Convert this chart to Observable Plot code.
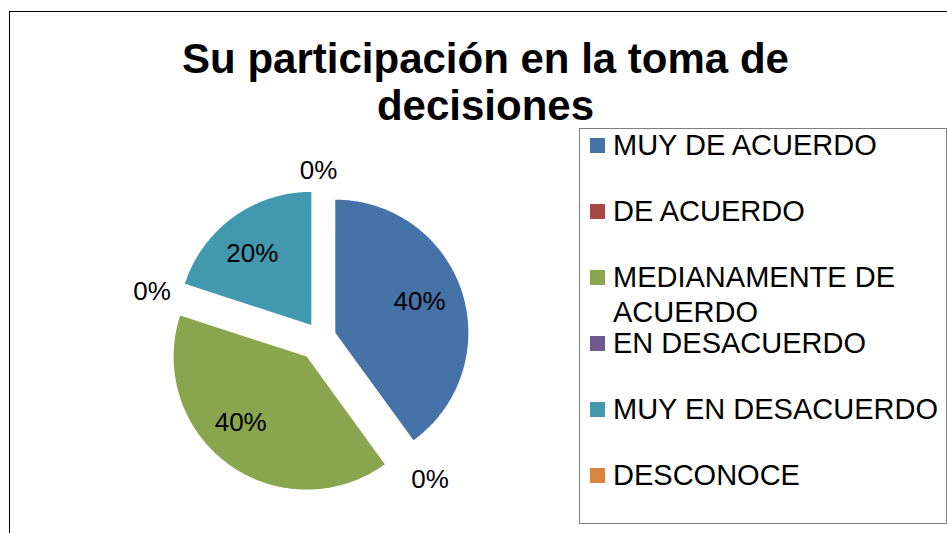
<!DOCTYPE html>
<html>
<head>
<meta charset="utf-8">
<script src="https://cdn.jsdelivr.net/npm/d3@7"></script>
<script src="https://cdn.jsdelivr.net/npm/@observablehq/plot@0.6"></script>
<style>
html, body { margin: 0; padding: 0; background: #fff; }
#chart { position: relative; width: 947px; height: 533px; overflow: hidden; font-family: "Liberation Sans", Arial, sans-serif; color: #000; }
#frame { position: absolute; left: 9px; top: 11px; width: 1000px; height: 700px; border: 1px solid #000; box-sizing: border-box; }
#plot { position: absolute; left: 0; top: 0; }
#title { position: absolute; left: 0; width: 971px; top: 35px; text-align: center; font-weight: bold; font-size: 42px; line-height: 47px; white-space: nowrap; }
#legend { position: absolute; left: 579px; top: 128px; width: 368px; height: 396px; border: 1px solid #7f7f7f; box-sizing: border-box; }
.item { position: absolute; left: 33px; width: 336px; font-size: 29px; line-height: 35px; }
.sw { position: absolute; left: 10px; width: 15px; height: 15px; }
</style>
</head>
<body>
<div id="chart">
  <div id="frame"></div>
  <div id="plot"></div>
  <div id="title"></div>
  <div id="legend"></div>
</div>
<script>
// ---- data ----
const categories = ["MUY DE ACUERDO", "DE ACUERDO", "MEDIANAMENTE DE ACUERDO", "EN DESACUERDO", "MUY EN DESACUERDO", "DESCONOCE"];
const percents = [40, 0, 40, 0, 20, 0];
const colors = ["#4572A7", "#AA4643", "#89A54E", "#71588F", "#4198AF", "#DB843D"];
const titleLines = ["Su participación en la toma de", "decisiones"];

// ---- layout / style ----
const W = 947, H = 533;
const R = 133, CX = 320, CY = 337;
const explode = [15.6, 13, 23.6, 8, 15.6, 0];   // px offset of each slice
const labelNudge = [[-3, -3], [5, -2], [-12, -8], [-4, 8], [-5, 3], [-2, -2]]; // px
const insideLabel = 0.69, outsideLabel = 165 / 133;

document.getElementById("title").innerHTML = titleLines.join("<br>");

const rows = categories.map((c, i) => ({category: c, value: percents[i]}));
const arcs = d3.pie().sort(null).value(d => d.value)(rows);
const pts = [];
const labels = [];
arcs.forEach((a, i) => {
  const mid = (a.startAngle + a.endAngle) / 2;
  const dx = Math.sin(mid), dy = -Math.cos(mid);
  const e = explode[i] / R;
  const ox = dx * e, oy = dy * e;
  const cat = a.data.category;
  const nx = labelNudge[i][0] / R, ny = labelNudge[i][1] / R;
  if (a.value > 0) {
    pts.push({category: cat, x: ox, y: oy});
    const n = Math.max(2, Math.ceil((a.endAngle - a.startAngle) / 0.01));
    for (let k = 0; k <= n; k++) {
      const t = a.startAngle + (a.endAngle - a.startAngle) * k / n;
      pts.push({category: cat, x: ox + Math.sin(t), y: oy - Math.cos(t)});
    }
    labels.push({x: ox + dx * insideLabel + nx, y: oy + dy * insideLabel + ny, text: a.data.value + "%"});
  } else {
    labels.push({x: ox + dx * outsideLabel + nx, y: oy + dy * outsideLabel + ny, text: a.data.value + "%"});
  }
});

const plot = Plot.plot({
  width: W, height: H, margin: 0,
  style: {fontFamily: "'Liberation Sans', Arial, sans-serif", background: "transparent", overflow: "visible"},
  x: {domain: [-CX / R, (W - CX) / R], range: [0, W], axis: null},
  y: {domain: [-CY / R, (H - CY) / R], range: [0, H], axis: null},
  color: {domain: categories, range: colors},
  marks: [
    Plot.line(pts, {x: "x", y: "y", z: "category", fill: "category", stroke: "none", curve: "linear-closed"}),
    Plot.text(labels, {x: "x", y: "y", text: "text", fontSize: 26, fill: "#000"})
  ]
});
document.getElementById("plot").appendChild(plot);

const legend = document.getElementById("legend");
categories.forEach((c, i) => {
  const top = 126.5 - 128 + 66 * i;
  const sw = document.createElement("div");
  sw.className = "sw";
  sw.style.top = (top + 10.5) + "px";
  sw.style.background = colors[i];
  legend.appendChild(sw);
  const it = document.createElement("div");
  it.className = "item";
  it.style.top = top + "px";
  it.textContent = c;
  legend.appendChild(it);
});
</script>
</body>
</html>
